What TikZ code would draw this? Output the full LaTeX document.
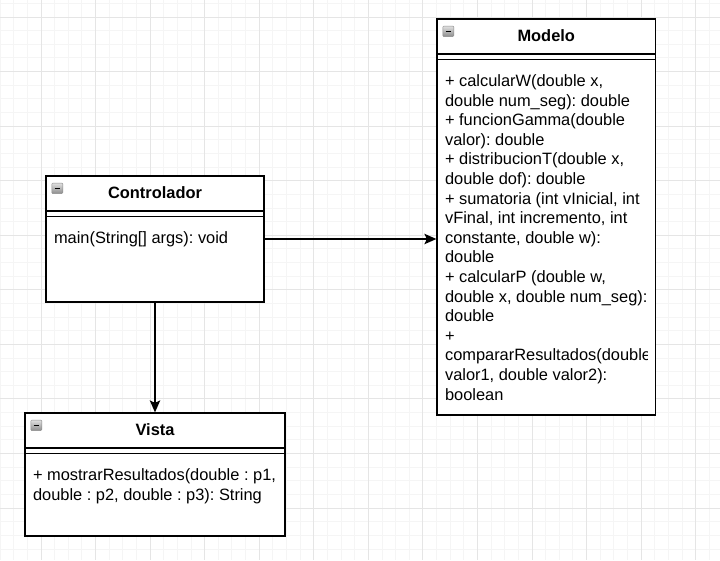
\documentclass[tikz,border=0pt]{standalone}
\usepackage{fontspec}
\setmainfont{Liberation Sans}
\usetikzlibrary{arrows.meta}
\frenchspacing

\begin{document}
\begin{tikzpicture}[x=1pt,y=-1pt,every node/.style={font=\fontsize{16.4}{19.6}\selectfont},minor/.style={draw=black!4,line width=1pt},major/.style={draw=black!10,line width=1pt},class/.style={shape=rectangle,draw=black,line width=1.3pt,fill=white,inner sep=0pt},title/.style={font=\fontsize{16.4}{19.6}\selectfont\bfseries,inner sep=0pt},ops/.style={anchor=north west,align=left,inner sep=0pt},icon/.style={shape=rectangle,rounded corners=1pt,draw=black!45,top color=black!12,bottom color=black!45,minimum width=11pt,minimum height=10.5pt,inner sep=0pt},sep/.style={line width=1.3pt},dep/.style={line width=1.3pt,-{Stealth[length=12pt,width=10.5pt,inset=2.5pt]}}]
\def\minor{13.64};
\def\major{54.56};
\def\headh{35.5};
\def\lineh{41};
\def\textx{8.5};
\def\texty{55};
\def\top{\rule{0pt}{13pt}}

\useasboundingbox[fill=white] (0,0) rectangle (720,560);
\foreach \i in {0,...,52} \draw[minor] (0.1+\i*\minor,0) -- (0.1+\i*\minor,560);
\foreach \j in {0,...,40} \draw[minor] (0,3.4+\j*\minor) -- (720,3.4+\j*\minor);
\foreach \i in {0,...,12} \draw[major] (41+\i*\major,0) -- (41+\i*\major,560);
\foreach \j in {0,...,9} \draw[major] (0,17+\j*\major) -- (720,17+\j*\major);

\node[class,minimum width=218.5pt,minimum height=396pt] (modelo) at (546.25,217) {};
\draw[sep] ([yshift=-\headh pt]modelo.north west) -- ([yshift=-\headh pt]modelo.north east);
\draw[sep] ([yshift=-\lineh pt]modelo.north west) -- ([yshift=-\lineh pt]modelo.north east);
\node[icon] (iconM) at ([xshift=12pt,yshift=-13pt]modelo.north west) {\rule{5.5pt}{1.5pt}};
\node[title] (modeloT) at ([yshift=-17.75pt]modelo.north) {Modelo};
\begin{scope}
\clip (modelo.north west) rectangle ([xshift=-9pt]modelo.south east);
\node[ops] (modeloOps) at ([xshift=\textx pt,yshift=-\texty pt]modelo.north west) {\top+ calcularW(double x,\\double num\_seg): double\\+ funcionGamma(double\\valor): double\\+ distribucionT(double x,\\double dof): double\\+ sumatoria (int vInicial, int\\vFinal, int incremento, int\\constante, double w):\\double\\+ calcularP (double w,\\double x, double num\_seg):\\double\\+\\compararResultados(double\\valor1, double valor2):\\boolean};
\end{scope}

\node[class,minimum width=218pt,minimum height=126pt] (ctrl) at (155,239) {};
\draw[sep] ([yshift=-\headh pt]ctrl.north west) -- ([yshift=-\headh pt]ctrl.north east);
\draw[sep] ([yshift=-\lineh pt]ctrl.north west) -- ([yshift=-\lineh pt]ctrl.north east);
\node[icon] (iconC) at ([xshift=12pt,yshift=-13pt]ctrl.north west) {\rule{5.5pt}{1.5pt}};
\node[title] (ctrlT) at ([yshift=-17.75pt]ctrl.north) {Controlador};
\node[ops] (ctrlOps) at ([xshift=\textx pt,yshift=-\texty pt]ctrl.north west) {\top main(String[] args): void};

\node[class,minimum width=260pt,minimum height=123pt] (vista) at (155,474.5) {};
\draw[sep] ([yshift=-\headh pt]vista.north west) -- ([yshift=-\headh pt]vista.north east);
\draw[sep] ([yshift=-\lineh pt]vista.north west) -- ([yshift=-\lineh pt]vista.north east);
\node[icon] (iconV) at ([xshift=12pt,yshift=-13pt]vista.north west) {\rule{5.5pt}{1.5pt}};
\node[title] (vistaT) at ([yshift=-17.75pt]vista.north) {Vista};
\node[ops] (vistaOps) at ([xshift=\textx pt,yshift=-\texty pt]vista.north west) {\top+ mostrarResultados(double : p1,\\double : p2, double : p3): String};

\draw[dep] (ctrl.east) -- (ctrl.east -| modelo.west);
\draw[dep] (ctrl.south) -- (vista.north);
\end{tikzpicture}
\end{document}
